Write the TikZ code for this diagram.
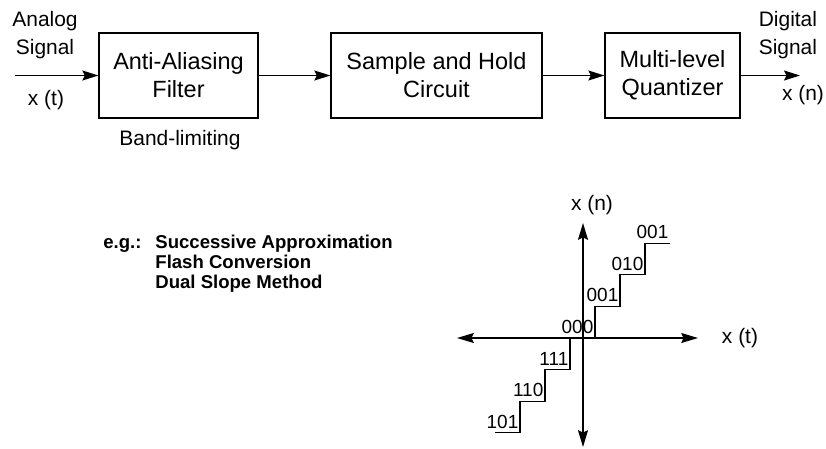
\documentclass[tikz,border=0pt]{standalone}
\usepackage{fontspec}
\setmainfont{Liberation Sans}
\usepackage{tikz}
\usetikzlibrary{arrows.meta, positioning}

\begin{document}
\begin{tikzpicture}[every node/.style={font=\fontsize{14.9}{20}\selectfont}]
    % Define styles
    \tikzstyle{block} = [rectangle, minimum height=2.125cm, align=center, draw=black, line width=0.9pt, font=\fontsize{16.7}{20}\selectfont]
    \tikzstyle{arrow} = [line width=0.9pt, -{Stealth[length=0.4cm, width=0.25cm, inset=0.06cm]}]
    \tikzstyle{axis} = [line width=0.9pt, {Stealth[length=0.42cm, width=0.25cm, inset=0.06cm]}-{Stealth[length=0.42cm, width=0.25cm, inset=0.06cm]}]
    \tikzstyle{stairline} = [line width=0.8pt]
    \tikzstyle{level} = [anchor=south east, inner xsep=1pt, inner ysep=3pt, font=\fontsize{13.5}{16}\selectfont]
    \tikzstyle{method} = [anchor=north west, inner sep=0pt, font=\fontsize{13.2}{14.2}\selectfont\bfseries]

    \useasboundingbox (0,0) rectangle (20.65,-11.2);

    % Signal chain
    \coordinate (in) at (0.375,-1.8875);
    \node (filter) [block, minimum width=3.975cm] at (4.4625,-1.8875) {Anti-Aliasing\\Filter};
    \node (sample) [block, minimum width=5.275cm] at (10.9125,-1.8875) {Sample and Hold\\Circuit};
    \node (quant) [block, minimum width=3.375cm] at (16.8125,-1.8875) {Multi-level\\Quantizer};
    \coordinate (out) at (20.0,-1.8875);

    \draw [arrow] (in) -- (filter);
    \draw [arrow] (filter) -- (sample);
    \draw [arrow] (sample) -- (quant);
    \draw [arrow] (quant) -- (out);

    % Signal labels
    \node (analog) [align=center] at (1.125,-0.875) {Analog\\Signal};
    \node (xt) at (1.15,-2.5) {x (t)};
    \node (band) at (4.5,-3.5) {Band-limiting};
    \node (digital) [align=right, anchor=east] at (20.55,-0.875) {Digital\\Signal};
    \node (xn) at (20.075,-2.375) {x (n)};

    % Conversion methods
    \node (methods) [method] at (2.575,-5.85) {%
        \begin{tabular}{@{}l@{\hspace{0.35cm}}l@{}}
        e.g.: & Successive Approximation \\
              & Flash Conversion \\
              & Dual Slope Method
        \end{tabular}};

    % Quantizer characteristic
    \coordinate (o) at (14.575,-8.45);
    \begin{scope}[shift={(o)}]
        \coordinate (ytop) at (0,2.875);
        \coordinate (ybot) at (0,-2.725);
        \coordinate (xleft) at (-3.15,0);
        \coordinate (xright) at (2.875,0);
        \draw [axis] (ybot) -- (ytop);
        \draw [axis] (xleft) -- (xright);
        \node (xnaxis) at (0.225,3.325) {x (n)};
        \node (xtaxis) at (3.925,0) {x (t)};

        \draw [stairline] (-2.2,-2.37) -| (-1.575,-1.58) -| (-0.95,-0.79) -| (-0.325,0)
            -| (0.3,0.79) -| (0.925,1.58) -| (1.55,2.37) -- (2.175,2.37);

        \foreach \x/\y/\code [count=\i] in {0.3/0/000, 0.925/0.79/001, 1.55/1.58/010, 2.175/2.37/001,
                                       -0.325/-0.79/111, -0.95/-1.58/110, -1.575/-2.37/101}
            \node (lv\i) [level] at (\x,\y) {\code};
    \end{scope}
\end{tikzpicture}
\end{document}
